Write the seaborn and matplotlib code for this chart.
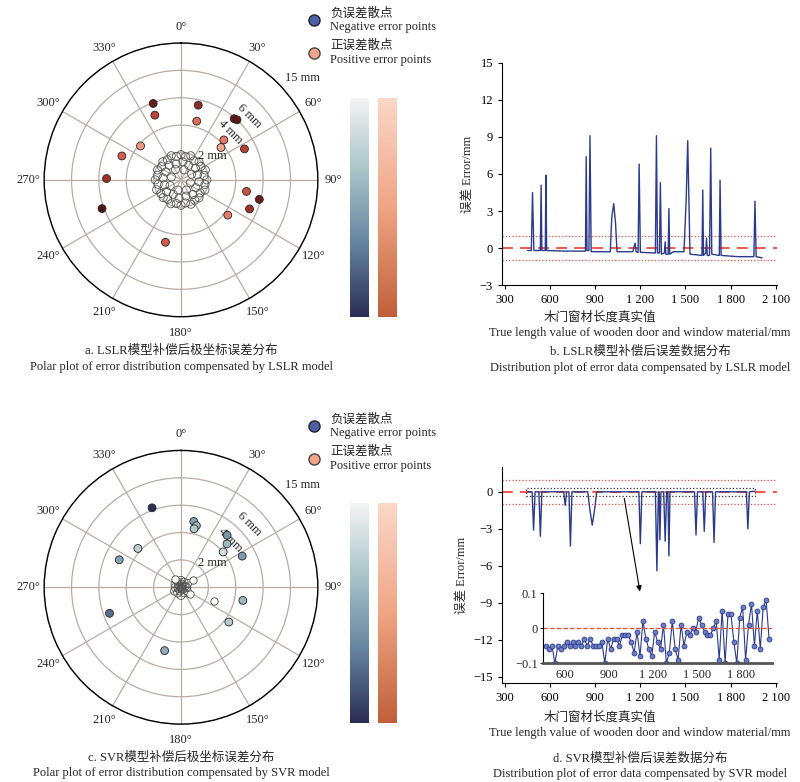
import numpy as np
import matplotlib
matplotlib.use('Agg')
import matplotlib.pyplot as plt
import seaborn as sns
from matplotlib.colors import LinearSegmentedColormap
from matplotlib.lines import Line2D

sns.set_style('white')
FONT = ['Liberation Serif', 'Noto Sans CJK SC']
FS = 9
plt.rcParams['font.family'] = FONT
plt.rcParams['font.size'] = FS
plt.rcParams['axes.unicode_minus'] = True

# ---- polar data (theta in degrees, radius in ring units: 1 ring = 2 mm label step) ----
a_theta = [340, 338, 13, 15, 41, 43, 47, 51, 64, 310, 292, 271, 250, 100, 104, 113, 127, 194]
a_r = [2.97, 2.55, 2.8, 2.22, 2.96, 3.0, 2.14, 1.88, 2.58, 1.93, 2.33, 2.72, 3.07, 2.43, 2.95, 2.72, 2.14, 2.35]
a_core_theta = [0, 11, 22, 34, 45, 56, 68, 79, 90, 101, 113, 124, 135, 146, 158, 169, 180, 191, 203, 214,
                225, 236, 248, 259, 270, 281, 293, 304, 315, 326, 338, 349,
                6, 28, 51, 73, 96, 118, 141, 163, 186, 208, 231, 253, 276, 298, 321, 343,
                17, 62, 107, 152, 197, 242, 287, 332]
a_core_r = [0.92, 0.86, 0.95, 0.84, 0.93, 0.88, 0.96, 0.86, 0.94, 0.89, 0.95, 0.85, 0.93, 0.9, 0.96, 0.86,
            0.93, 0.88, 0.95, 0.86, 0.92, 0.89, 0.96, 0.85, 0.94, 0.88, 0.93, 0.86, 0.94, 0.89, 0.95, 0.87,
            0.66, 0.6, 0.68, 0.63, 0.66, 0.61, 0.69, 0.62, 0.67, 0.6, 0.68, 0.63, 0.66, 0.62, 0.69, 0.61,
            0.38, 0.44, 0.36, 0.42, 0.39, 0.45, 0.37, 0.43]

c_theta = [340, 11, 14, 12.6, 41.5, 46.7, 50, 63, 312, 294, 250, 102, 126, 194.5]
c_r = [3.09, 2.45, 2.32, 2.19, 2.54, 2.31, 2.01, 2.51, 2.12, 2.47, 2.78, 2.31, 2.16, 2.39]
c_white_theta = [324, 57, 112, 128]
c_white_r = [0.38, 0.51, 1.31, 0.4]
c_core_theta = [0, 30, 60, 90, 120, 150, 180, 210, 240, 270, 300, 330, 15, 75, 135, 195, 255, 315, 45, 165, 285]
c_core_r = [0.25, 0.22, 0.28, 0.2, 0.26, 0.23, 0.3, 0.24, 0.27, 0.21, 0.25, 0.22,
            0.12, 0.15, 0.1, 0.14, 0.11, 0.13, 0.05, 0.06, 0.04]

angle_labels = ['0°', '30°', '60°', '90°', '120°', '150°', '180°', '210°', '240°', '270°', '300°', '330°']

# ---- panel b: LSLR error curve ----
b_x = [450, 475, 483, 492, 535, 540, 545, 568, 572, 577, 700, 835, 840, 845, 858, 865, 873, 1000, 1010, 1023,
       1035, 1045, 1150, 1165, 1172, 1185, 1192, 1200, 1300, 1307, 1314, 1327, 1333, 1340, 1360, 1365, 1370,
       1385, 1390, 1395, 1420, 1490, 1505, 1515, 1530, 1610, 1615, 1620, 1635, 1640, 1645, 1660, 1668, 1675,
       1725, 1730, 1737, 1850, 1955, 1962, 1970, 2010]
b_y = [-0.2, -0.2, 4.5, -0.2, -0.2, 5.1, -0.2, -0.2, 5.9, -0.2, -0.25, -0.25, 7.4, -0.2, -0.2, 9.1, -0.3, -0.3,
       2.5, 3.6, 2.0, -0.3, -0.3, 0.4, -0.3, -0.35, 6.8, -0.35, -0.4, 9.1, -0.4, -0.4, 5.3, -0.5, -0.4, 0.5, -0.5,
       -0.5, 3.2, -0.5, -0.3, -0.3, 4.0, 8.7, -0.5, -0.6, 4.7, -0.6, -0.4, 0.8, -0.6, -0.6, 8.1, -0.5,
       -0.6, 5.5, -0.6, -0.7, -0.7, 3.8, -0.7, -0.8]

# ---- panel d: SVR error curve ----
d_x = [450, 480, 490, 500, 525, 535, 545, 690, 700, 710, 725, 735, 745, 850, 865, 880, 895, 910, 1190, 1200,
       1210, 1300, 1310, 1320, 1325, 1330, 1337, 1355, 1365, 1375, 1383, 1390, 1397, 1560, 1570, 1580, 1615,
       1625, 1635, 1680, 1690, 1700, 1905, 1915, 1925, 1960]
d_y = [0, 0, -3.1, 0, 0, -3.6, 0, 0, -1.1, 0, 0, -4.4, 0, 0, -1.5, -2.7, -1.5, 0, 0, -4.2, 0, 0, -6.4, 0, 0,
       -3.9, 0, 0, -4.0, 0, 0, -5.2, 0, 0, -3.5, 0, 0, -3.2, 0, 0, -4.1, 0, 0, -3.0, 0, 0.05]

i_x = [470, 490, 510, 530, 550, 570, 590, 610, 630, 650, 670, 690, 710, 730, 750, 770, 790, 810, 830, 850,
       870, 890, 910, 930, 950, 970, 990, 1010, 1030, 1050, 1070, 1090, 1110, 1130, 1150, 1170, 1190, 1210,
       1230, 1250, 1270, 1290, 1310, 1330, 1350, 1370, 1390, 1410, 1430, 1450, 1470, 1490, 1510, 1530, 1550,
       1570, 1590, 1610, 1630, 1650, 1670, 1690, 1710, 1730, 1750, 1770, 1790, 1810, 1830, 1850, 1870, 1890,
       1910, 1930, 1950, 1970, 1990]
i_y = [-0.05, -0.06, -0.05, -0.1, -0.05, -0.06, -0.05, -0.04, -0.05, -0.04,
       -0.05, -0.04, -0.05, -0.03, -0.05, -0.03, -0.05, -0.05, -0.05, -0.04,
       -0.1, -0.03, -0.06, -0.03, -0.03, -0.05, -0.02, -0.02, -0.02, -0.04,
       -0.07, -0.01, -0.08, 0.02, -0.03, -0.06, -0.08, -0.01, -0.04, -0.06,
       0.01, -0.1, -0.07, 0.02, -0.06, -0.09, 0.01, -0.05, -0.01, -0.02,
       0.0, -0.01, 0.03, 0.01, -0.01, -0.02, -0.02, 0.0, 0.02, -0.09,
       0.05, -0.1, 0.04, 0.04, -0.04, -0.1, 0.03, 0.06, -0.09, 0.01,
       0.07, -0.05, 0.05, -0.06, 0.06, 0.08, -0.03]

x_ticks = [300, 600, 900, 1200, 1500, 1800, 2100]
x_tick_labels = ['300', '600', '900', '1 200', '1 500', '1 800', '2 100']
inset_ticks = [600, 900, 1200, 1500, 1800]
inset_tick_labels = ['600', '900', '1 200', '1 500', '1 800']

NAVY = '#2b3a8c'
neg_cmap = LinearSegmentedColormap.from_list('neg', ['#f5f4f3', '#a9c4c8', '#6683a0', '#2a2d55'])
pos_cmap = LinearSegmentedColormap.from_list('pos', ['#fbd8c8', '#f0a585', '#c0603a'])
red_pts = LinearSegmentedColormap.from_list('redpts', ['#f6b09a', '#e06a55', '#b0362a', '#4a1212'])

fig = plt.figure(figsize=(8, 7.82), dpi=100)


def polar_panel(bottom, pts_t, pts_r, cmap, core_t, core_r, white_t=None, white_r=None):
    ax = fig.add_axes([0.055, bottom, 0.3425, 0.350], projection='polar')
    ax.set_theta_zero_location('N')
    ax.set_theta_direction(-1)
    ax.set_ylim(0, 5)
    ax.set_yticks([1, 2, 3, 4, 5])
    ax.set_yticklabels([])
    ax.set_thetagrids(np.arange(0, 360, 30), angle_labels, fontsize=FS)
    ax.tick_params(axis='x', pad=1)
    ax.grid(color='#b9aca4', lw=0.9)
    ax.spines['polar'].set_color('black')
    ax.spines['polar'].set_linewidth(1.0)
    ax.scatter(np.deg2rad(core_t), core_r, s=34, facecolor='none', edgecolor='#555555', lw=0.6, zorder=3)
    if white_t is not None:
        ax.scatter(np.deg2rad(white_t), white_r, s=28, facecolor='white', edgecolor='#444444', lw=0.6, zorder=3)
    ax.scatter(np.deg2rad(pts_t), pts_r, c=pts_r, cmap=cmap, vmin=1.8, vmax=3.1, s=32,
               edgecolor='#222222', lw=0.6, zorder=4)
    ax.text(np.deg2rad(53), 1.45, '2 mm', fontsize=FS, ha='center', va='center')
    ax.text(np.deg2rad(46), 2.5, '4 mm', fontsize=FS, ha='center', va='center', rotation=-45)
    ax.text(np.deg2rad(47), 3.4, '6 mm', fontsize=FS, ha='center', va='center', rotation=-45)
    ax.text(np.deg2rad(50), 5.8, '15 mm', fontsize=FS, ha='center', va='center', clip_on=False)
    return ax


def colorbars(y_top_px, y_bot_px):
    grad = np.linspace(0, 1, 256).reshape(-1, 1)
    h = (y_bot_px - y_top_px) / 782
    b = 1 - y_bot_px / 782
    c1 = fig.add_axes([350 / 800, b, 19 / 800, h])
    c1.imshow(grad, aspect='auto', cmap=neg_cmap.reversed(), origin='lower')
    c2 = fig.add_axes([378 / 800, b, 19 / 800, h])
    c2.imshow(grad, aspect='auto', cmap=pos_cmap.reversed(), origin='lower')
    for c in (c1, c2):
        c.set_axis_off()


def legend(y_px):
    handles = [Line2D([], [], marker='o', ls='none', ms=8, mfc='#4a5fa5', mec='#222222'),
               Line2D([], [], marker='o', ls='none', ms=8, mfc='#f4a48c', mec='#444444')]
    fig.legend(handles, ['负误差散点\nNegative error points', '正误差散点\nPositive error points'],
               loc='upper left', bbox_to_anchor=(290 / 800, 1 - y_px / 782), frameon=False,
               handletextpad=0.3, labelspacing=0.5, prop={'family': FONT, 'size': FS})


polar_panel(0.595, a_theta, a_r, red_pts, a_core_theta, a_core_r)
colorbars(98, 317)
legend(-4)

polar_panel(0.074, c_theta, c_r, neg_cmap, c_core_theta, c_core_r, c_white_theta, c_white_r)
colorbars(503, 723)
legend(402)


def line_axes(rect):
    ax = fig.add_axes(rect)
    ax.spines[['top', 'right']].set_visible(False)
    ax.spines[['left', 'bottom']].set_color('black')
    ax.tick_params(axis='both', direction='out', length=3, width=0.8, colors='black', labelsize=FS, bottom=True, left=True)
    ax.set_xlim(280, 2110)
    ax.set_xticks(x_ticks)
    ax.set_xticklabels(x_tick_labels)
    ax.set_ylabel('误差 Error/mm', fontsize=FS)
    for y, ls, lw in [(0, (0, (6, 4)), 1.3), (1, ':', 0.9), (-1, ':', 0.9)]:
        ax.axhline(y, color='#f04a3a', ls=ls, lw=lw, zorder=1)
    return ax


axb = line_axes([0.6275, 0.6355, 0.344, 0.284])
sns.lineplot(x=b_x, y=b_y, ax=axb, color=NAVY, lw=1.0, sort=False, estimator=None, zorder=3)
axb.set_ylim(-3, 15)
axb.set_yticks([-3, 0, 3, 6, 9, 12, 15])
axb.set_yticklabels(['−3', '0', '3', '6', '9', '12', '15'])
fig.text(600 / 800, 1 - 317 / 782, '木门窗材长度真实值', ha='center', va='center', fontsize=FS)
fig.text(640 / 800, 1 - 333 / 782, 'True length value of wooden door and window material/mm', ha='center', va='center', fontsize=FS)

axd = line_axes([0.6275, 0.1266, 0.344, 0.276])
sns.lineplot(x=d_x, y=d_y, ax=axd, color=NAVY, lw=1.0, sort=False, estimator=None, zorder=3)
axd.set_ylim(-15.5, 2)
axd.set_yticks([-15, -12, -9, -6, -3, 0])
axd.set_yticklabels(['−15', '−12', '−9', '−6', '−3', '0'])
axd.add_patch(plt.Rectangle((440, -0.35), 1520, 0.7, fill=False, ls=':', ec='#333333', lw=0.9, zorder=4))
axd.annotate('', xy=(1200, -8.3), xytext=(1090, -0.3),
             arrowprops=dict(arrowstyle='-|>', color='black', lw=0.8, mutation_scale=8))
fig.text(600 / 800, 1 - 717 / 782, '木门窗材长度真实值', ha='center', va='center', fontsize=FS)
fig.text(640 / 800, 1 - 733 / 782, 'True length value of wooden door and window material/mm', ha='center', va='center', fontsize=FS)

axi = fig.add_axes([0.679, 0.152, 0.286, 0.0895])
sns.lineplot(x=i_x, y=i_y, ax=axi, color=NAVY, lw=0.8, sort=False, estimator=None,
             marker='o', markersize=3.5, markerfacecolor='#6c7fc4', markeredgecolor=NAVY, markeredgewidth=0.6)
axi.axhline(0, color='#f04a3a', ls='--', lw=0.9)
axi.set_xlim(450, 2010)
axi.set_ylim(-0.1, 0.1)
axi.set_yticks([-0.1, 0, 0.1])
axi.set_yticklabels(['−0.1', '0', '0.1'])
axi.set_xticks(inset_ticks)
axi.set_xticklabels(inset_tick_labels)
axi.spines[['top', 'right']].set_visible(False)
axi.spines['left'].set_color('black')
axi.spines['bottom'].set_color('#555555')
axi.spines['bottom'].set_linewidth(2)
axi.tick_params(labelsize=FS, length=2, left=True, bottom=False, pad=2)

# captions
fig.text(181 / 800, 1 - 351 / 782, 'a. LSLR模型补偿后极坐标误差分布', ha='center', va='center', fontsize=FS)
fig.text(181 / 800, 1 - 367 / 782, 'Polar plot of error distribution compensated by LSLR model', ha='center', va='center', fontsize=FS)
fig.text(640 / 800, 1 - 352 / 782, 'b. LSLR模型补偿后误差数据分布', ha='center', va='center', fontsize=FS)
fig.text(640 / 800, 1 - 368 / 782, 'Distribution plot of error data compensated by LSLR model', ha='center', va='center', fontsize=FS)
fig.text(181 / 800, 1 - 758 / 782, 'c. SVR模型补偿后极坐标误差分布', ha='center', va='center', fontsize=FS)
fig.text(181 / 800, 1 - 773 / 782, 'Polar plot of error distribution compensated by SVR model', ha='center', va='center', fontsize=FS)
fig.text(640 / 800, 1 - 759 / 782, 'd. SVR模型补偿后误差数据分布', ha='center', va='center', fontsize=FS)
fig.text(640 / 800, 1 - 774 / 782, 'Distribution plot of error data compensated by SVR model', ha='center', va='center', fontsize=FS)

fig.savefig('out.png', dpi=100)
